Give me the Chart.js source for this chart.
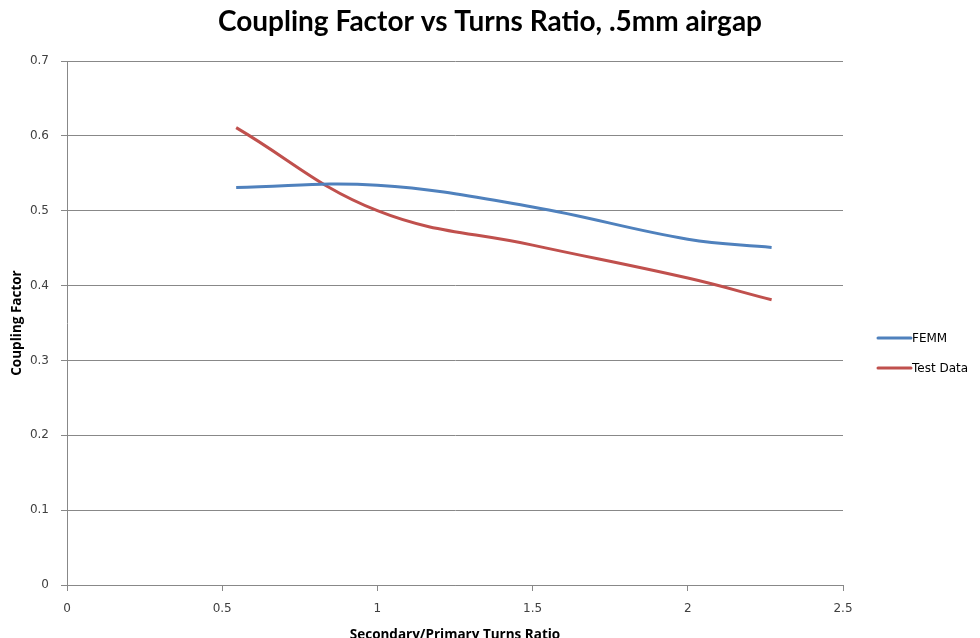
<!DOCTYPE html>
<html>
<head>
<meta charset="utf-8">
<script src="https://cdn.jsdelivr.net/npm/chart.js@4/dist/chart.umd.min.js"></script>
<style>
html,body{margin:0;padding:0;background:#fff;}
#wrap{width:980px;height:638px;position:relative;}
</style>
</head>
<body>
<div id="wrap"><canvas id="c" width="980" height="638"></canvas></div>
<script>
const chartTitle = "Coupling Factor vs Turns Ratio, .5mm airgap";
const xAxisTitle = "Secondary/Primary Turns Ratio";
const yAxisTitle = "Coupling Factor";
const seriesNames = ["FEMM", "Test Data"];
const turnsRatio = [0.545, 1.0, 1.5, 2.0, 2.27];
const femm = [0.531, 0.534, 0.505, 0.462, 0.451];
const testData = [0.611, 0.500, 0.454, 0.410, 0.381];
const colors = ["#4F81BD", "#C0504D"];

const toXY = (xs, ys) => xs.map((x, i) => ({x: x, y: ys[i]}));

const titleLegendPlugin = {
  id: 'titleLegend',
  afterDraw(chart) {
    const ctx = chart.ctx;
    ctx.save();
    ctx.fillStyle = '#000';
    ctx.font = 'bold 28px Lato, "Open Sans", sans-serif';
    ctx.textAlign = 'center';
    ctx.textBaseline = 'middle';
    ctx.fillText(chartTitle, 490, 22);
    const lx = 878, ys = [338, 368];
    chart.data.datasets.forEach((ds, i) => {
      ctx.strokeStyle = ds.borderColor;
      ctx.lineWidth = 3;
      ctx.lineCap = 'round';
      ctx.beginPath();
      ctx.moveTo(lx, ys[i]);
      ctx.lineTo(lx + 33, ys[i]);
      ctx.stroke();
      ctx.fillStyle = '#000';
      ctx.font = '12px "DejaVu Sans", sans-serif';
      ctx.textAlign = 'left';
      ctx.fillText(ds.label, lx + 34, ys[i] + 1);
    });
    ctx.restore();
  }
};

const tickFont = {family: '"DejaVu Sans", sans-serif', size: 12};
const axisTitleFont = {family: '"Open Sans", sans-serif', size: 13.5, weight: 'bold'};

new Chart(document.getElementById('c'), {
  type: 'line',
  data: {
    datasets: [
      {label: seriesNames[0], data: toXY(turnsRatio, femm), borderColor: colors[0], backgroundColor: colors[0], borderWidth: 3, pointRadius: 0, tension: 0.4, fill: false},
      {label: seriesNames[1], data: toXY(turnsRatio, testData), borderColor: colors[1], backgroundColor: colors[1], borderWidth: 3, pointRadius: 0, tension: 0.4, fill: false}
    ]
  },
  options: {
    responsive: false,
    animation: false,
    layout: {padding: {top: 61, right: 137, left: 0, bottom: 0}},
    plugins: {legend: {display: false}, title: {display: false}, tooltip: {enabled: false}},
    scales: {
      x: {
        type: 'linear', min: 0, max: 2.5,
        ticks: {stepSize: 0.5, color: '#404040', font: tickFont, padding: 11, callback: v => String(Math.round(v * 10) / 10)},
        grid: {drawOnChartArea: false, drawTicks: true, tickLength: 6, color: '#888'},
        border: {color: '#888'},
        title: {display: true, text: xAxisTitle, color: '#000', font: axisTitleFont, padding: {top: 0, bottom: -5}},
        afterFit(s) { s.height = 53; }
      },
      y: {
        min: 0, max: 0.7,
        ticks: {stepSize: 0.1, color: '#404040', font: tickFont, padding: 12, callback: v => String(Math.round(v * 10) / 10)},
        grid: {color: '#888', tickLength: 6},
        border: {color: '#888'},
        title: {display: true, text: yAxisTitle, color: '#000', font: axisTitleFont, padding: {top: 9, bottom: 0}},
        afterFit(s) { s.width = 67; }
      }
    }
  },
  plugins: [titleLegendPlugin]
});
</script>
</body>
</html>
